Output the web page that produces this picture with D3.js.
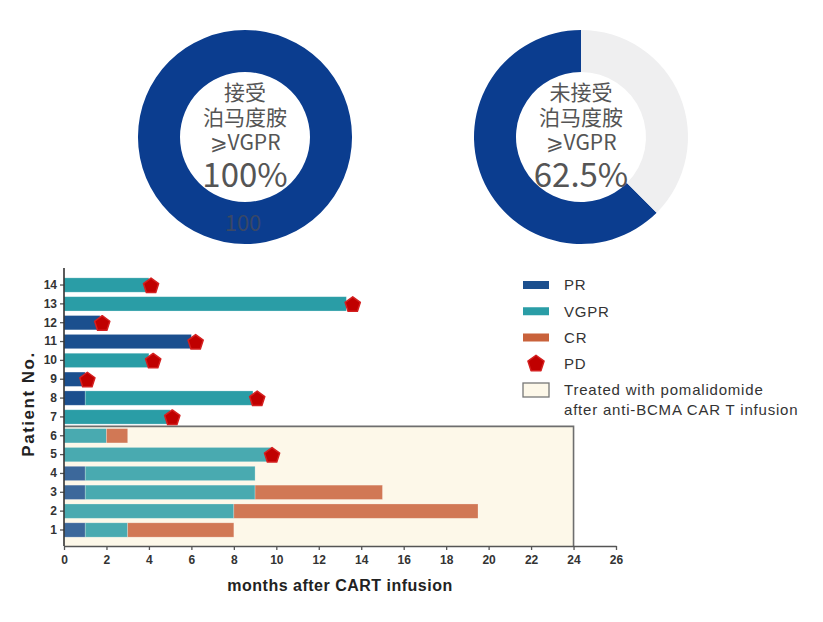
<!DOCTYPE html>
<html>
<head>
<meta charset="utf-8">
<script src="https://cdn.jsdelivr.net/npm/d3@7"></script>
<style>
  body { margin: 0; background: #fff; }
  svg { display: block; }
</style>
</head>
<body>
<div id="chart"></div>
<script>
// donut values (percent >= VGPR)
const donutLabels = [["接受", "泊马度胺", "⩾VGPR"], ["未接受", "泊马度胺", "⩾VGPR"]];
const donutValues = [100, 62.5];
const donutPctText = ["100%", "62.5%"];

// swimmer plot data, one row per patient
const patients = [14, 13, 12, 11, 10, 9, 8, 7, 6, 5, 4, 3, 2, 1];
const prEnd   = [0, 0, 1.7, 6, 0, 1, 1, 0, 0, 0, 1, 1, 0, 1];
const vgprEnd = [4, 13.3, 1.7, 6, 4, 1, 8.9, 5, 2, 9.8, 9, 9, 8, 3];
const crEnd   = [4, 13.3, 1.7, 6, 4, 1, 8.9, 5, 3, 9.8, 9, 15, 19.5, 8];
const pdTime  = [4.1, 13.6, 1.8, 6.2, 4.2, 1.1, 9.1, 5.1, null, 9.8, null, null, null, null];
const pomaPatients = [6, 5, 4, 3, 2, 1];
const pomaEnd = 24;
const xTicks = d3.range(0, 27, 2);

const colors = {PR: "#1b4f8e", VGPR: "#2a9da6", CR: "#c9623b", PD: "#c00000", shade: "#fdf8e9"};
const legendItems = ["PR", "VGPR", "CR", "PD", "Treated"];

const width = 823, height = 622;
const svg = d3.select("#chart").append("svg")
    .attr("width", width)
    .attr("height", height);

// ---- donuts ----
const donutCx = [245, 581], donutCy = 137;
const rOuter = 107, rInner = 65;
const arc = d3.arc().innerRadius(rInner).outerRadius(rOuter);
const pie = d3.pie().sort(null).value(d => d);
const cjk = "'Noto Sans CJK SC', 'Noto Sans', sans-serif";

donutValues.forEach((v, i) => {
  const g = svg.append("g").attr("transform", `translate(${donutCx[i]},${donutCy})`);
  // blue part runs counter-clockwise from 12 o'clock
  const slices = pie.startAngle(0).endAngle(-2 * Math.PI)([v, 100 - v]);
  g.selectAll("path")
    .data(slices)
    .enter().append("path")
    .attr("d", arc)
    .attr("fill", (d, j) => j === 0 ? "#0b3d8f" : "#efeff0");

  const lines = donutLabels[i];
  lines.forEach((t, k) => {
    g.append("text")
      .attr("x", 0)
      .attr("y", -37 + k * 25)
      .attr("text-anchor", "middle")
      .attr("font-family", cjk)
      .attr("font-size", "21px")
      .attr("fill", "#555")
      .text(t);
  });
  g.append("text")
    .attr("x", 0)
    .attr("y", 50)
    .attr("text-anchor", "middle")
    .attr("font-family", cjk)
    .attr("font-size", "33px")
    .attr("fill", "#555")
    .text(donutPctText[i]);
});

// stray value label on the first donut
svg.append("text")
  .attr("x", donutCx[0] - 2)
  .attr("y", 231)
  .attr("text-anchor", "middle")
  .attr("font-family", cjk)
  .attr("font-size", "22px")
  .attr("fill", "#3a4866")
  .text(donutValues[0]);

// ---- swimmer plot ----
const x = d3.scaleLinear().domain([0, 26]).range([64, 616]);
const y = d3.scaleBand().domain(patients).range([275.6, 539.4]).paddingInner(0.24).paddingOuter(0.12);
const axisY = 546;
const font = "'Liberation Sans Narrow', 'Liberation Sans', Arial, sans-serif";
const sans = "'Liberation Sans', Arial, sans-serif";

// pomalidomide shaded region
const shadeTop = y(pomaPatients[0]) - y.step() * y.paddingInner() / 2;
svg.append("rect")
  .attr("x", x(0))
  .attr("y", shadeTop)
  .attr("width", x(pomaEnd) - x(0))
  .attr("height", axisY - shadeTop)
  .attr("fill", colors.shade);

const rows = patients.map((p, i) => ({p, pr: prEnd[i], vgpr: vgprEnd[i], cr: crEnd[i], pd: pdTime[i]}));
const segs = [];
rows.forEach(r => {
  if (r.pr > 0) segs.push({p: r.p, a: 0, b: r.pr, c: colors.PR});
  if (r.vgpr > r.pr) segs.push({p: r.p, a: r.pr, b: r.vgpr, c: colors.VGPR});
  if (r.cr > r.vgpr) segs.push({p: r.p, a: r.vgpr, b: r.cr, c: colors.CR});
});

svg.append("g").selectAll("rect")
  .data(segs)
  .enter().append("rect")
  .attr("x", d => x(d.a))
  .attr("y", d => y(d.p))
  .attr("width", d => x(d.b) - x(d.a))
  .attr("height", y.bandwidth())
  .attr("fill", d => d.c)
  .attr("stroke", "#ffffff")
  .attr("stroke-opacity", 0.35)
  .attr("stroke-width", 0.7);

// slight wash over bars inside the shaded region
svg.append("rect")
  .attr("x", x(0))
  .attr("y", shadeTop)
  .attr("width", x(pomaEnd) - x(0))
  .attr("height", axisY - shadeTop)
  .attr("fill", colors.shade)
  .attr("fill-opacity", 0.15)
  .attr("stroke", "none");

// shade border (top and right)
svg.append("path")
  .attr("d", `M${x(0)},${shadeTop}H${x(pomaEnd)}V${axisY}`)
  .attr("fill", "none")
  .attr("stroke", "#6e6e6e")
  .attr("stroke-width", 1.6);

// PD pentagons
const pentagon = r => {
  const pts = d3.range(5).map(k => {
    const a = -Math.PI / 2 + k * 2 * Math.PI / 5;
    return [r * Math.cos(a), r * Math.sin(a)];
  });
  return "M" + pts.join("L") + "Z";
};
svg.append("g").selectAll("path")
  .data(rows.filter(r => r.pd != null))
  .enter().append("path")
  .attr("d", pentagon(8))
  .attr("transform", d => `translate(${x(d.pd)},${y(d.p) + y.bandwidth() / 2 + 1})`)
  .attr("fill", colors.PD)
  .attr("stroke", "#d42020")
  .attr("stroke-width", 1.5)
  .attr("stroke-linejoin", "round");

// axes
const xAxis = svg.append("g")
  .attr("transform", `translate(0,${axisY})`)
  .call(d3.axisBottom(x).tickValues(xTicks).tickSize(4).tickSizeOuter(0));
const yAxis = svg.append("g")
  .attr("transform", `translate(${x(0)},0)`)
  .call(d3.axisLeft(y).tickSize(4).tickSizeOuter(0));
yAxis.select(".domain").remove();
yAxis.append("line")
  .attr("x1", 0).attr("x2", 0)
  .attr("y1", 268).attr("y2", axisY)
  .attr("stroke", "#333").attr("stroke-width", 1.6);

[xAxis, yAxis].forEach(ax => {
  ax.selectAll(".domain").attr("stroke", "#555").attr("stroke-width", 1.6);
  ax.selectAll(".tick line").attr("stroke", "#555").attr("stroke-width", 1.3);
  ax.selectAll("text")
    .attr("font-family", font)
    .attr("font-weight", "bold")
    .attr("font-size", "12px")
    .attr("fill", "#333");
});
xAxis.selectAll("text").attr("dy", "0.9em");

svg.append("text")
  .attr("x", 340)
  .attr("y", 591)
  .attr("text-anchor", "middle")
  .attr("font-family", sans)
  .attr("font-weight", "bold")
  .attr("font-size", "16px")
  .attr("letter-spacing", "0.5px")
  .attr("fill", "#222")
  .text("months after CART infusion");

svg.append("text")
  .attr("transform", `translate(34,${404}) rotate(-90)`)
  .attr("text-anchor", "middle")
  .attr("font-family", sans)
  .attr("font-weight", "bold")
  .attr("font-size", "17px")
  .attr("letter-spacing", "1.5px")
  .attr("fill", "#222")
  .text("Patient No.");

// legend
const lg = svg.append("g").attr("transform", "translate(523,285)");
const legendY = d3.scalePoint().domain(legendItems).range([0, 105]);
legendItems.forEach(k => {
  const yy = legendY(k);
  if (k === "PD") {
    lg.append("path").attr("d", pentagon(8.5))
      .attr("transform", `translate(13,${yy})`)
      .attr("fill", colors.PD).attr("stroke", "#d42020").attr("stroke-width", 1.5)
      .attr("stroke-linejoin", "round");
  } else if (k === "Treated") {
    lg.append("rect").attr("x", 0).attr("y", yy - 7).attr("width", 26).attr("height", 14)
      .attr("fill", colors.shade).attr("stroke", "#777").attr("stroke-width", 1.3);
  } else {
    lg.append("rect").attr("x", 0).attr("y", yy - 4).attr("width", 26).attr("height", 8)
      .attr("fill", colors[k]);
  }
  const lines = k === "Treated" ? ["Treated with pomalidomide", "after anti-BCMA CAR T infusion"] : [k];
  lines.forEach((t, j) => {
    lg.append("text")
      .attr("x", 41)
      .attr("y", yy + j * 20)
      .attr("dy", "0.35em")
      .attr("font-family", sans)
      .attr("font-size", "15px")
      .attr("letter-spacing", "0.8px")
      .attr("fill", "#333")
      .text(t);
  });
});
</script>
</body>
</html>
